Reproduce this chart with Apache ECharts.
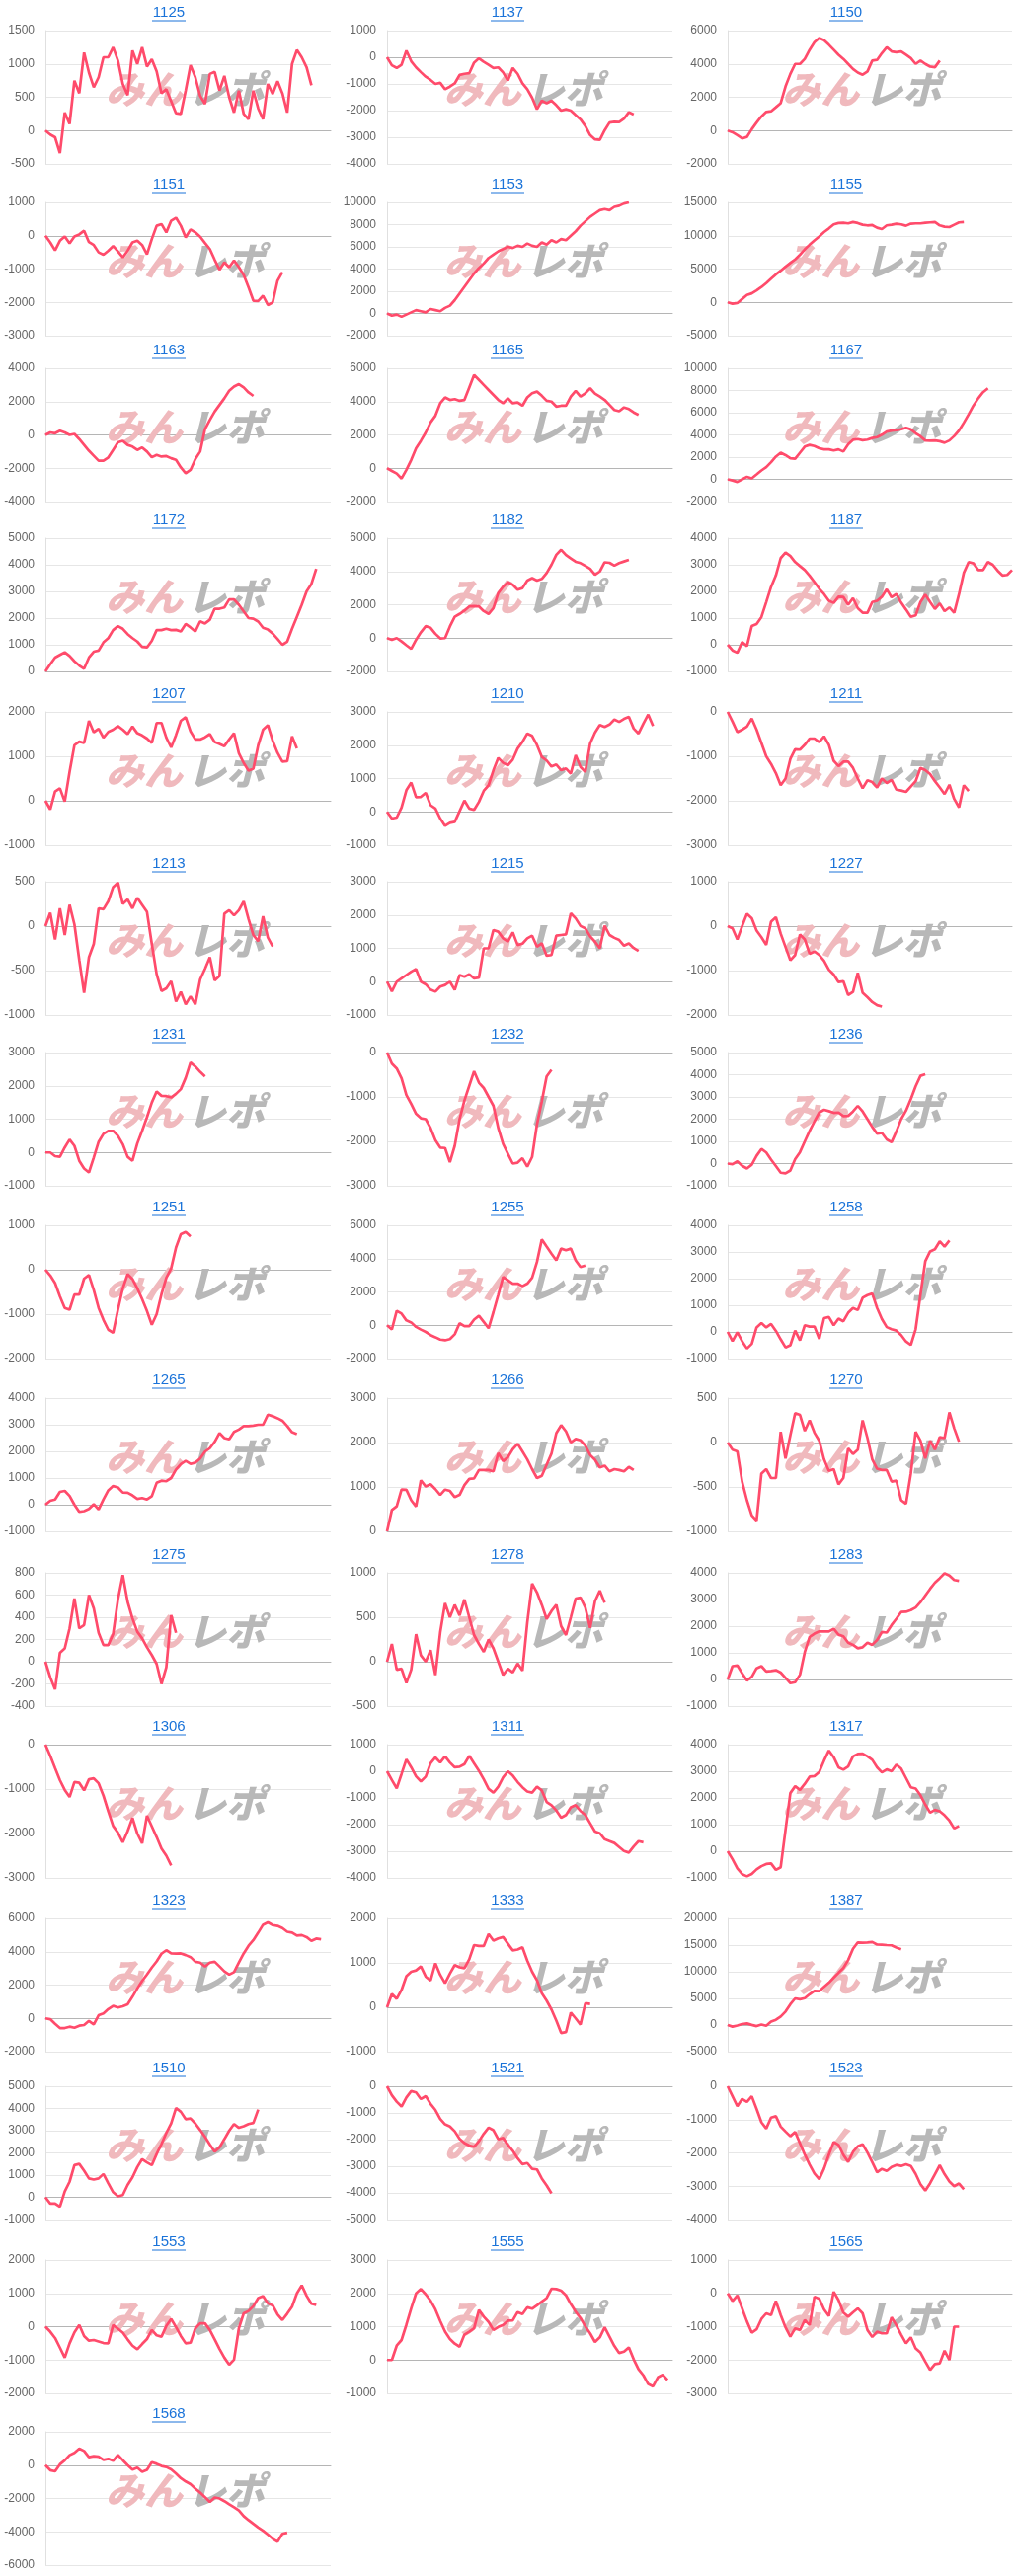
<!DOCTYPE html>
<html><head><meta charset="utf-8">
<script src="https://cdn.jsdelivr.net/npm/echarts@6/dist/echarts.min.js"></script>
<style>html,body{margin:0;padding:0;background:#fff}#c{width:1028px;height:2609px}</style>
</head><body><div id="c"></div>
<script>
// ---- chart ids (titles) ----
const titles = [1125,1137,1150,1151,1153,1155,1163,1165,1167,1172,1182,1187,1207,1210,1211,1213,1215,1227,1231,1232,1236,1251,1255,1258,1265,1266,1270,1275,1278,1283,1306,1311,1317,1323,1333,1387,1510,1521,1523,1553,1555,1565,1568];
// ---- y axis ticks ----
const yMin = [-500,-4000,-2000,-3000,-2000,-5000,-4000,-2000,-2000,0,-2000,-1000,-1000,-1000,-3000,-1000,-1000,-2000,-1000,-3000,-1000,-2000,-2000,-1000,-1000,0,-1000,-400,-500,-1000,-3000,-4000,-1000,-2000,-1000,-5000,-1000,-5000,-4000,-2000,-1000,-3000,-6000];
const yMax = [1500,1000,6000,1000,10000,15000,4000,6000,10000,5000,6000,4000,2000,3000,0,500,3000,1000,3000,0,5000,1000,6000,4000,4000,3000,500,800,1000,4000,0,1000,4000,6000,2000,20000,5000,0,0,2000,3000,1000,2000];
const yStep = [500,1000,2000,1000,2000,5000,2000,2000,2000,1000,2000,1000,1000,1000,1000,500,1000,1000,1000,1000,1000,1000,2000,1000,1000,1000,500,200,500,1000,1000,1000,1000,2000,1000,5000,1000,1000,1000,1000,1000,1000,2000];
// ---- series values ----
const s1125 = [0,-60,-100,-340,270,100,750,560,1170,870,650,800,1100,1100,1250,1050,700,530,1200,1000,1250,960,1070,890,560,620,440,260,250,600,980,800,520,400,850,880,600,820,500,270,600,250,170,600,330,170,700,550,740,560,270,1000,1210,1100,950,680];
const s1137 = [0,-300,-400,-280,250,-150,-380,-560,-730,-850,-1000,-960,-1200,-1100,-980,-660,-620,-600,-200,-40,-170,-280,-400,-380,-570,-875,-400,-620,-980,-1200,-1520,-1950,-1630,-1720,-1630,-1800,-2000,-1950,-2000,-2170,-2330,-2580,-2920,-3080,-3100,-2740,-2450,-2420,-2430,-2300,-2060,-2150];
const s1150 = [0,-100,-280,-470,-380,80,480,850,1120,1160,1400,1650,2650,3400,4000,4000,4300,4850,5300,5560,5420,5150,4850,4550,4300,4000,3700,3480,3350,3550,4200,4240,4650,5000,4750,4700,4750,4550,4350,4000,4200,4000,3840,3800,4200];
const s1151 = [0,-200,-440,-150,-20,-230,-20,40,150,-190,-280,-500,-570,-450,-310,-470,-650,-450,-200,-150,-280,-560,-100,300,350,100,450,540,300,-50,190,100,-30,-220,-400,-720,-1020,-800,-950,-740,-940,-1180,-1550,-1950,-1960,-1800,-2080,-2000,-1350,-1090];
const s1153 = [0,-200,-100,-300,-100,100,300,200,100,400,300,200,500,700,1200,1800,2400,3000,3600,4100,4500,5000,5300,5600,5800,6000,5900,6100,6000,6300,6100,6000,6400,6200,6600,6400,6700,6600,7000,7400,7900,8300,8700,9000,9300,9400,9300,9600,9700,9900,10000];
const s1155 = [0,-200,-100,500,1100,1350,1800,2300,2900,3550,4200,4750,5350,5900,6450,7150,7950,8650,9300,9900,10550,11100,11700,11900,11950,11850,12050,11900,11650,11550,11600,11200,11000,11550,11650,11800,11700,11500,11800,11850,11850,11950,12000,12050,11550,11350,11300,11650,12000,12050];
const s1163 = [0,150,100,250,150,0,60,-250,-600,-950,-1250,-1550,-1550,-1350,-900,-450,-350,-600,-700,-900,-750,-1000,-1340,-1200,-1300,-1270,-1400,-1500,-1950,-2300,-2100,-1450,-1000,350,900,1400,1800,2200,2650,2900,3050,2850,2550,2340];
const s1165 = [0,-160,-320,-620,-100,500,1200,1650,2150,2750,3150,3900,4250,4100,4150,4050,4100,4850,5600,5300,5000,4700,4400,4100,3900,4200,3900,3950,3750,4250,4500,4600,4350,4050,4000,3700,3750,3750,4300,4650,4300,4500,4800,4480,4300,4100,3800,3500,3420,3650,3550,3350,3200];
const s1167 = [0,-100,-230,0,230,90,440,800,1100,1550,2050,2400,2180,1900,1850,2400,2950,3100,3000,2800,2700,2700,2600,2700,2500,3150,3560,3620,3520,3580,3720,3800,4020,4300,4390,4420,4510,4650,4500,4150,3870,3500,3480,3500,3430,3300,3500,3900,4400,5100,5850,6650,7300,7850,8200];
const s1172 = [0,270,520,620,720,580,380,220,100,520,740,780,1090,1250,1550,1700,1600,1400,1250,1120,920,900,1150,1550,1550,1600,1550,1560,1500,1780,1650,1500,1880,1800,1940,2350,2350,2400,2700,2700,2500,2250,2000,1980,1870,1640,1570,1420,1220,1000,1120,1600,2050,2500,3000,3280,3850];
const s1182 = [0,-100,0,-200,-430,-650,-100,350,720,620,260,-20,0,700,1280,1450,1650,1900,1920,1900,1620,1450,1800,2700,3080,3350,3200,2900,3000,3450,3600,3450,3550,3900,4400,5000,5300,4980,4780,4580,4500,4330,4150,3800,4000,4550,4520,4350,4500,4600,4700];
const s1187 = [0,-210,-300,100,-50,700,780,1040,1600,2170,2600,3250,3460,3330,3100,2950,2800,2590,2350,2100,1900,1650,1570,1800,1790,1500,1750,1370,1200,1200,1600,1650,1800,2080,1780,1900,1580,1320,1050,1100,1600,1880,1600,1340,1550,1260,1400,1200,1900,2700,3100,3050,2800,2800,3100,3000,2780,2600,2620,2800];
const s1207 = [0,-195,210,280,-20,650,1250,1330,1300,1800,1540,1620,1420,1550,1600,1680,1600,1500,1670,1520,1470,1400,1300,1750,1750,1420,1200,1480,1800,1880,1560,1380,1380,1430,1500,1320,1280,1230,1380,1520,1070,850,680,720,1250,1600,1700,1350,1080,880,890,1450,1180];
const s1210 = [0,-200,-170,130,650,880,440,450,570,200,100,-200,-420,-330,-300,20,340,100,60,300,630,800,1250,1620,1470,1400,1570,1900,2100,2350,2280,2010,1650,1540,1360,1420,1250,1300,1150,1700,1350,1200,2050,2380,2610,2550,2620,2770,2700,2790,2850,2500,2350,2650,2920,2580];
const s1211 = [0,-220,-455,-400,-330,-150,-400,-700,-1000,-1170,-1380,-1650,-1500,-1060,-840,-850,-740,-600,-600,-680,-550,-740,-1100,-1220,-1120,-1120,-1260,-1500,-1720,-1540,-1580,-1700,-1500,-1600,-1530,-1750,-1770,-1800,-1680,-1560,-1260,-1310,-1400,-1560,-1700,-1850,-1640,-1960,-2150,-1650,-1780];
const s1213 = [0,150,-150,200,-100,240,20,-380,-750,-350,-200,200,190,280,440,490,250,300,200,320,240,160,-200,-540,-730,-700,-620,-850,-740,-880,-790,-880,-600,-480,-350,-610,-560,140,180,120,180,280,80,-100,-170,110,-130,-230];
const s1215 = [0,-290,0,100,200,300,380,0,-80,-240,-300,-150,-100,0,-250,200,150,220,100,120,1000,1000,1550,1500,1300,1200,1480,1100,1140,1300,1380,1050,1150,780,800,1380,1400,1420,2050,1900,1670,1600,1360,1200,1000,1680,1400,1315,1250,1080,1150,1010,920];
const s1227 = [0,-50,-300,0,280,180,-100,-250,-420,100,200,-170,-470,-770,-650,-190,-300,-620,-570,-650,-780,-980,-1090,-1260,-1240,-1550,-1480,-1050,-1500,-1600,-1710,-1780,-1810];
const s1231 = [0,0,-110,-130,150,390,200,-250,-480,-600,-150,320,560,650,650,500,250,-130,-250,270,650,1060,1500,1830,1700,1690,1650,1760,1900,2240,2700,2580,2420,2280];
const s1232 = [0,-250,-360,-580,-960,-1160,-1380,-1480,-1500,-1700,-1970,-2140,-2150,-2470,-2100,-1500,-1080,-750,-420,-680,-800,-1000,-1200,-1700,-2060,-2280,-2500,-2480,-2380,-2570,-2350,-1620,-1100,-540,-390];
const s1236 = [0,-30,100,-100,-220,-50,350,660,500,180,-110,-410,-440,-310,200,515,1000,1470,1900,2300,2420,2360,2285,2300,2140,2150,2345,2600,2345,2000,1650,1350,1380,1090,960,1450,2000,2380,2900,3480,3950,4020];
const s1251 = [0,-130,-300,-600,-860,-900,-560,-560,-200,-120,-460,-860,-1130,-1350,-1420,-900,-420,-100,-210,-420,-660,-930,-1240,-1000,-550,-180,30,500,800,850,750];
const s1255 = [0,-250,870,700,290,170,-100,-260,-400,-590,-720,-860,-900,-830,-540,120,-50,-50,340,570,200,-180,800,1830,2900,2700,2500,2500,2350,2500,2850,3800,5150,4720,4300,3900,4600,4500,4600,3900,3500,3585];
const s1258 = [0,-350,-10,-350,-625,-450,170,330,170,300,40,-280,-580,-500,50,-320,250,200,200,-260,520,560,250,500,400,720,900,820,1280,1380,1440,900,480,180,100,50,-120,-360,-490,100,1400,2650,3020,3100,3400,3200,3430];
const s1265 = [0,150,195,480,520,330,0,-270,-240,-160,20,-180,200,540,700,650,460,450,350,220,250,195,320,820,900,880,1000,1320,1520,1640,1530,1580,1730,1990,2120,2360,2690,2500,2455,2730,2820,2950,2950,2970,3000,3000,3380,3320,3245,3150,2950,2720,2650];
const s1266 = [0,480,565,940,935,700,560,1150,1010,1060,950,820,940,910,770,820,1040,1180,1190,1380,1380,1380,1350,1760,1580,1670,1850,1970,1800,1620,1400,1200,1250,1500,1750,2210,2390,2250,2000,2080,2050,1930,1720,1610,1440,1480,1350,1400,1380,1350,1450,1380];
const s1270 = [0,-80,-100,-440,-650,-820,-880,-350,-300,-400,-400,120,-180,80,330,310,130,250,110,20,-190,-320,-300,-470,-400,-65,-130,-80,250,50,-190,-295,-310,-310,-440,-430,-650,-690,-350,120,20,-180,20,-80,60,50,340,160,10];
const s1275 = [0,-140,-250,80,120,300,570,300,330,600,480,260,150,150,250,560,780,540,390,270,210,130,60,-20,-200,-50,420,260];
const s1278 = [0,200,-90,-80,-240,-90,310,70,0,130,-150,330,660,500,640,520,700,500,300,200,110,250,150,0,-150,-80,-120,-20,-100,440,880,780,640,480,570,640,400,300,500,710,720,610,380,680,800,665];
const s1283 = [0,500,525,230,-40,100,420,500,300,320,350,260,60,-140,-100,180,1030,1600,1720,1805,1800,1800,1900,1680,1620,1380,1300,1170,1210,1380,1300,1480,1780,1760,2040,2280,2530,2540,2600,2700,2900,3150,3400,3630,3800,3980,3900,3730,3700];
const s1306 = [0,-250,-530,-800,-1020,-1180,-840,-860,-1030,-780,-760,-870,-1150,-1500,-1830,-1980,-2200,-1950,-1650,-2000,-2220,-1600,-1840,-2080,-2340,-2500,-2720];
const s1311 = [0,-330,-640,-100,450,150,-190,-380,-200,300,520,330,560,330,150,170,270,580,300,20,-300,-660,-800,-580,-230,0,-160,-400,-600,-760,-800,-580,-720,-1150,-1270,-1470,-1740,-1640,-1350,-1270,-1490,-1640,-1950,-2260,-2325,-2550,-2620,-2690,-2840,-2990,-3050,-2820,-2620,-2660];
const s1317 = [0,-300,-640,-860,-940,-850,-680,-560,-480,-460,-700,-600,800,2180,2440,2300,2530,2800,2820,2970,3400,3780,3530,3150,3060,3180,3560,3650,3660,3560,3430,3150,2960,3070,3000,3250,3100,2750,2400,2350,2100,1750,1450,1550,1500,1350,1150,855,950];
const s1323 = [0,-50,-330,-580,-580,-500,-560,-440,-400,-150,-360,190,300,560,750,650,730,850,1300,1800,2250,2640,3050,3420,3880,4090,3900,3890,3900,3800,3680,3400,3350,3110,3350,3400,3120,2820,2630,2780,3350,3900,4360,4700,5150,5620,5760,5600,5550,5420,5200,5150,4970,5000,4880,4650,4790,4750];
const s1333 = [0,300,190,390,700,800,830,920,690,600,990,730,540,760,950,900,880,1080,1400,1380,1380,1650,1500,1550,1580,1430,1280,1300,1350,1050,800,610,315,150,-50,-300,-580,-560,-120,-250,-390,90,75];
const s1387 = [0,-300,-100,180,300,30,-200,100,-150,635,980,1600,2530,3900,5000,4850,5050,5780,6400,6360,7170,7950,8880,9800,10700,12200,14300,15500,15430,15500,15580,15100,15060,15000,14950,14540,14200];
const s1510 = [0,-280,-280,-430,265,700,1450,1505,1200,850,800,850,1050,630,230,45,100,555,900,1360,1720,1570,1450,1950,2400,2900,3330,4020,3850,3520,3550,3320,3030,2720,2380,2060,2250,2620,3000,3300,3130,3200,3300,3350,3950];
const s1521 = [0,-340,-580,-760,-420,-180,-230,-480,-370,-660,-890,-1230,-1430,-1510,-1690,-1970,-2130,-2220,-2270,-2060,-1780,-1550,-1650,-1990,-1940,-2200,-2420,-2700,-2920,-2880,-3100,-3120,-3460,-3720,-4020];
const s1523 = [0,-300,-600,-380,-470,-300,-680,-1080,-1270,-940,-900,-1210,-1360,-1500,-1370,-1710,-2050,-2350,-2620,-2790,-2470,-2050,-1670,-1760,-2060,-2270,-1970,-1800,-1740,-1990,-2280,-2580,-2480,-2540,-2420,-2360,-2390,-2340,-2390,-2630,-2940,-3130,-2910,-2640,-2370,-2640,-2860,-3000,-2920,-3095];
const s1553 = [0,-150,-340,-630,-930,-500,-170,50,-280,-420,-400,-445,-490,-500,50,-60,-180,-380,-570,-680,-520,-370,-100,-260,-300,20,230,-10,-280,-500,-480,-50,100,100,-100,-380,-670,-930,-1140,-990,-50,400,470,620,860,920,700,640,370,200,390,600,1000,1240,930,690,650];
const s1555 = [0,0,430,600,1060,1550,2000,2130,1970,1780,1520,1170,850,630,490,400,760,850,950,1500,1300,1140,900,990,1050,1180,1190,1440,1380,1580,1540,1640,1750,1860,2140,2130,2080,1940,1680,1450,1260,1010,800,540,680,980,700,420,210,250,380,20,-280,-460,-720,-790,-520,-440,-600];
const s1565 = [0,-230,-60,-450,-840,-1180,-1080,-770,-600,-650,-230,-650,-1020,-1300,-1050,-1100,-800,-950,-100,-160,-480,-680,50,-200,-580,-700,-570,-450,-600,-1100,-1310,-1150,-1200,-1200,-720,-960,-1240,-1500,-1320,-1650,-1780,-2050,-2300,-2120,-2100,-1720,-2000,-1000,-1000];
const s1568 = [0,-300,-370,50,290,600,740,990,850,480,540,510,320,380,260,620,300,0,-270,-150,-400,-280,180,80,-50,-110,-250,-500,-780,-980,-1140,-1410,-1650,-1920,-2210,-1940,-2000,-2160,-2350,-2530,-2720,-3060,-3300,-3520,-3740,-3930,-4160,-4420,-4600,-4120,-4050];

const allSeries = [s1125,s1137,s1150,s1151,s1153,s1155,s1163,s1165,s1167,s1172,s1182,s1187,s1207,s1210,s1211,s1213,s1215,s1227,s1231,s1232,s1236,s1251,s1255,s1258,s1265,s1266,s1270,s1275,s1278,s1283,s1306,s1311,s1317,s1323,s1333,s1387,s1510,s1521,s1523,s1553,s1555,s1565,s1568];

// ---- layout (positions kept apart from data) ----
const rowTitleY = [13,187,355,527,703,875,1048,1223,1398,1575,1749,1925,2095,2271,2445];
const colLeft = [46,392,737];
const colRight = [335,681,1025];
const colCenter = [171,514,857];
const panelLeft = [0,342.7,685.3];
const slots = Array.from({length:60},(_,i)=>String(i+1));

const LINE = '#ff4b6b', LINK = '#1a73d9', FONT = 'Arial, "Liberation Sans", sans-serif';
const grids=[], xAxes=[], yAxes=[], series=[], titleList=[], graphics=[];
titles.forEach((id,k)=>{
  const r=Math.floor(k/3), c=k%3, T=rowTitleY[r];
  grids.push({left:colLeft[c], top:T+18, width:colRight[c]-colLeft[c], height:135});
  xAxes.push({type:'category', gridIndex:k, data:slots, boundaryGap:false,
    axisLabel:{show:false}, axisTick:{show:false}, splitLine:{show:false},
    axisLine:{show:true, onZero:true, lineStyle:{color:'#b5b5b5', width:1}}});
  yAxes.push({type:'value', gridIndex:k, min:yMin[k], max:yMax[k], interval:yStep[k],
    axisLine:{show:true, lineStyle:{color:'#e0e0e0'}}, axisTick:{show:false},
    splitLine:{show:true, lineStyle:{color:'#e6e6e6', width:1}},
    axisLabel:{color:'#666', fontSize:12, margin:11, fontFamily:FONT, formatter:v=>String(v)}});
  series.push({type:'line', name:String(id), xAxisIndex:k, yAxisIndex:k, data:allSeries[k],
    showSymbol:false, symbol:'none', z:5, lineStyle:{color:LINE, width:2.7}, itemStyle:{color:LINE}});
  titleList.push({text:String(id), left:colCenter[c], top:T-8, textAlign:'center', padding:0,
    textStyle:{color:LINK, fontSize:15, fontWeight:'normal', fontFamily:FONT}});
  graphics.push({type:'line', silent:true, shape:{x1:colCenter[c]-17, y1:T+8, x2:colCenter[c]+17, y2:T+8},
    style:{stroke:LINK, lineWidth:1}});
  const px = panelLeft[c];
  graphics.push({type:'text', silent:true, z:1, x:px+107, y:T+77,
    style:{text:'みん', fill:'#f0b9bd', fontSize:39, fontWeight:900, fontStyle:'italic',
      fontFamily:'"Noto Sans CJK JP", sans-serif', verticalAlign:'middle', align:'left'}});
  graphics.push({type:'text', silent:true, z:1, x:px+190, y:T+77,
    style:{text:'レポ', fill:'#b8b8b8', fontSize:39, fontWeight:900, fontStyle:'italic',
      fontFamily:'"Noto Sans CJK JP", sans-serif', verticalAlign:'middle', align:'left'}});
});

const chart = echarts.init(document.getElementById('c'), null, {renderer:'canvas'});
chart.setOption({
  animation:false,
  backgroundColor:'#fff',
  title:titleList,
  grid:grids, xAxis:xAxes, yAxis:yAxes, series:series,
  graphic:{elements:graphics}
});
</script></body></html>
